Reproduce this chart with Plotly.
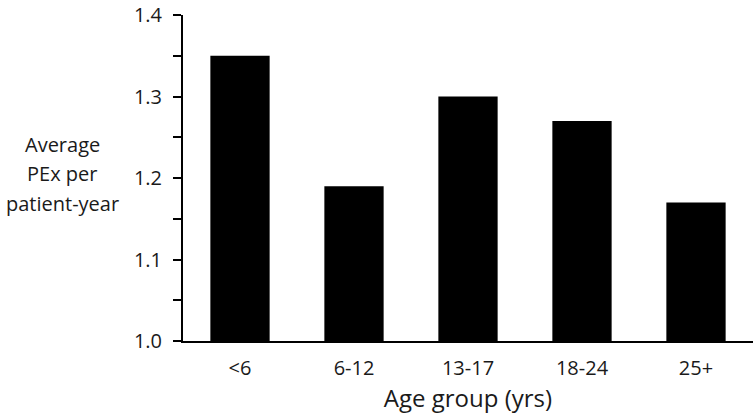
import plotly.graph_objects as go

age_groups = ["<6", "6-12", "13-17", "18-24", "25+"]
avg_pex = [1.35, 1.19, 1.30, 1.27, 1.17]
y_tick_vals = [1.0, 1.1, 1.2, 1.3, 1.4]
y_tick_text = ["1.0", "1.1", "1.2", "1.3", "1.4"]
y_title_lines = ["Average", "PEx per", "patient-year"]

FONT = "Open Sans, sans-serif"
TEXT_COLOR = "#1a1a1a"

fig = go.Figure(go.Bar(
    x=age_groups, y=avg_pex,
    marker={"color": "#000000", "line": {"width": 0}},
    width=0.52,
))

fig.update_layout(
    width=754, height=414,
    plot_bgcolor="white", paper_bgcolor="white",
    margin={"l": 183, "r": 1, "t": 15, "b": 73},
    font={"family": FONT, "size": 20, "color": TEXT_COLOR},
    showlegend=False,
    bargap=0.48,
    xaxis={
        "showline": True, "linecolor": "#000000", "linewidth": 2,
        "ticks": "", "showgrid": False, "ticklabelstandoff": 8,
        "title": {"text": "Age group (yrs)", "standoff": 4},
    },
    yaxis={
        "range": [1.0, 1.4],
        "tickvals": y_tick_vals, "ticktext": y_tick_text,
        "showline": True, "linecolor": "#000000", "linewidth": 2,
        "ticks": "outside", "ticklen": 8, "tickwidth": 2, "tickcolor": "#000000",
        "minor": {"dtick": 0.05, "ticks": "outside", "ticklen": 8,
                  "tickwidth": 2, "tickcolor": "#000000"},
        "showgrid": False, "zeroline": False, "ticklabelstandoff": 7,
    },
)

# horizontal y-axis title, one annotation per line for wider line spacing
for i, line in enumerate(y_title_lines):
    fig.add_annotation(
        text=line,
        xref="paper", yref="paper", x=-0.212, y=0.604 - 0.091 * i,
        xanchor="center", yanchor="middle", showarrow=False,
        font={"family": FONT, "size": 20, "color": TEXT_COLOR},
    )

fig.write_html(
    "out.html",
    config={"displayModeBar": False},
    post_script="document.body.style.margin='0';",
)
